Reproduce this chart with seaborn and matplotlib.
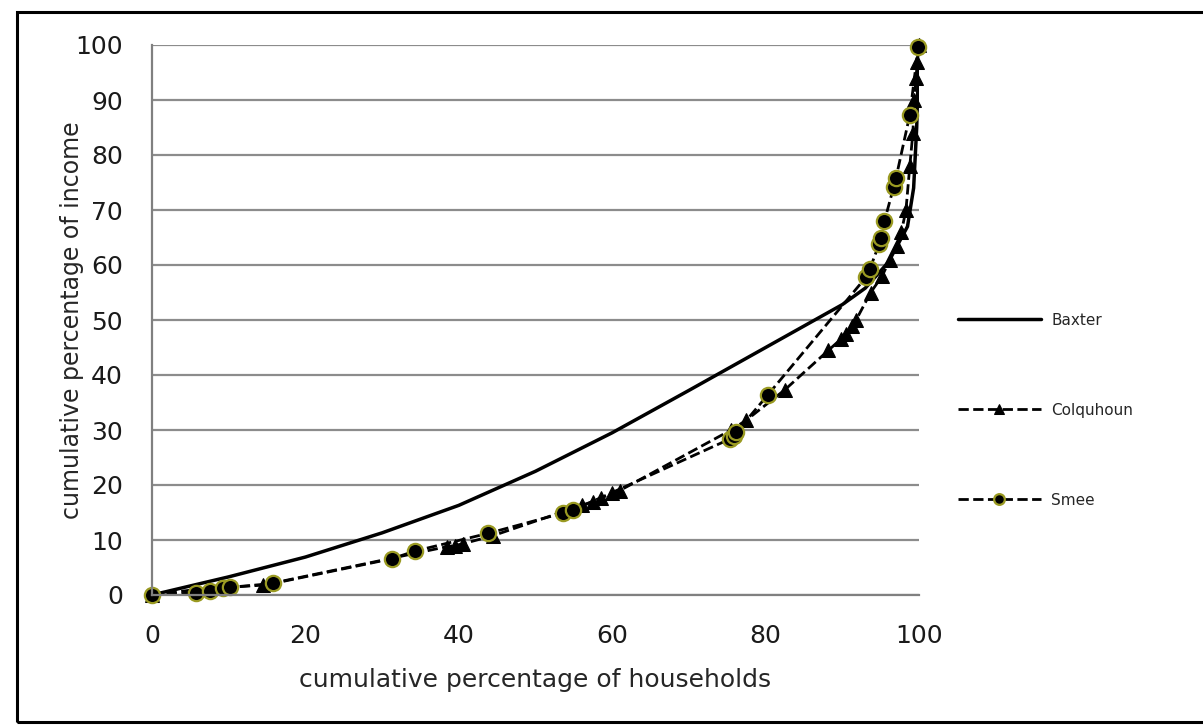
import matplotlib
matplotlib.use("Agg")
import matplotlib.pyplot as plt
import seaborn as sns
from matplotlib.patches import Rectangle

# Data
baxter_x = [0, 10, 20, 30, 40, 50, 60, 70, 80, 90, 93, 96, 98.5, 99.3, 99.7, 100]
baxter_y = [0, 3.3, 6.9, 11.3, 16.3, 22.5, 29.5, 37.2, 45, 52.8, 55.8, 60.5, 67, 74, 85, 100]

colq_x = [0, 5.7, 14.5, 38.5, 39.5, 40.5, 44.5, 56, 57.5, 58.5, 60, 61, 75.5, 77.5, 82.5,
          88.2, 89.8, 90.5, 91.2, 91.8, 93.7, 95.2, 96.2, 97.1, 97.7, 98.3, 98.8, 99.2,
          99.4, 99.6, 99.8, 100]
colq_y = [0, 1.0, 1.8, 8.8, 9.0, 9.3, 10.8, 16.3, 17.0, 17.6, 18.5, 19.0, 30.0, 31.8, 37.3,
          44.5, 46.5, 47.5, 49.0, 50.0, 55.0, 58.0, 61.0, 63.5, 66.0, 70.0, 78.0, 84.0,
          90.0, 94.0, 97.0, 100]

smee_x = [0, 5.8, 7.6, 9.3, 10.2, 15.8, 31.3, 34.3, 43.8, 53.6, 54.9, 75.4, 75.9, 76.2,
          80.3, 93.1, 93.6, 94.8, 95.1, 95.5, 96.7, 97.0, 98.8, 99.9]
smee_y = [0, 0.4, 0.7, 1.2, 1.4, 2.1, 6.6, 8.0, 11.2, 14.9, 15.4, 28.4, 29.0, 29.6,
          36.4, 57.8, 59.3, 63.8, 65.0, 68.0, 74.2, 75.8, 87.3, 99.6]

xticks = [0, 20, 40, 60, 80, 100]
yticks = list(range(0, 101, 10))

sns.set_style("white")
plt.rcParams["font.family"] = ["DejaVu Sans"]

fig = plt.figure(figsize=(12.03, 7.25), dpi=100)
ax = fig.add_axes([152 / 1203, 130 / 725, 767 / 1203, 550 / 725])

sns.lineplot(x=baxter_x, y=baxter_y, sort=False, estimator=None, color="black",
             linewidth=2.5, label="Baxter", ax=ax)
sns.lineplot(x=colq_x, y=colq_y, sort=False, estimator=None, color="black",
             linewidth=2.0, linestyle="--", marker="^", markersize=10,
             markeredgecolor="black", label="Colquhoun", ax=ax, clip_on=False)
sns.lineplot(x=smee_x, y=smee_y, sort=False, estimator=None, color="black",
             linewidth=2.0, linestyle="--", marker="o", markersize=11,
             markerfacecolor="black", markeredgecolor="#9a9a22", markeredgewidth=1.6,
             label="Smee", ax=ax, clip_on=False)

ax.set_xlim(0, 100)
ax.set_ylim(0, 100)
ax.set_xticks(xticks)
ax.set_yticks(yticks)
ax.tick_params(axis="both", labelsize=18, length=9, color="#808080", width=1.2,
               labelcolor="#1a1a1a", direction="out")
ax.tick_params(axis="x", pad=12)
ax.tick_params(axis="y", pad=12)
ax.grid(axis="y", color="#8c8c8c", linewidth=1.6)
ax.grid(axis="x", visible=False)
ax.set_axisbelow(True)
for side in ["top", "right"]:
    ax.spines[side].set_visible(False)
for side in ["left", "bottom"]:
    ax.spines[side].set_color("#808080")
    ax.spines[side].set_linewidth(1.6)

ax.set_xlabel("cumulative percentage of households", fontsize=18, labelpad=14)
ax.set_ylabel("cumulative percentage of income", fontsize=17, labelpad=-6)

leg = ax.legend(loc="center left", bbox_to_anchor=(1.033, 0.336), frameon=False,
                fontsize=11, handlelength=5.4, labelspacing=4.9, handletextpad=0.7,
                markerscale=0.7)

# screenshot frame
fig.patches.append(Rectangle((17 / 1203, 3 / 725), 1.2, 710 / 725, transform=fig.transFigure,
                             fill=False, edgecolor="black", linewidth=2.2))

fig.savefig("out.png", dpi=100)
